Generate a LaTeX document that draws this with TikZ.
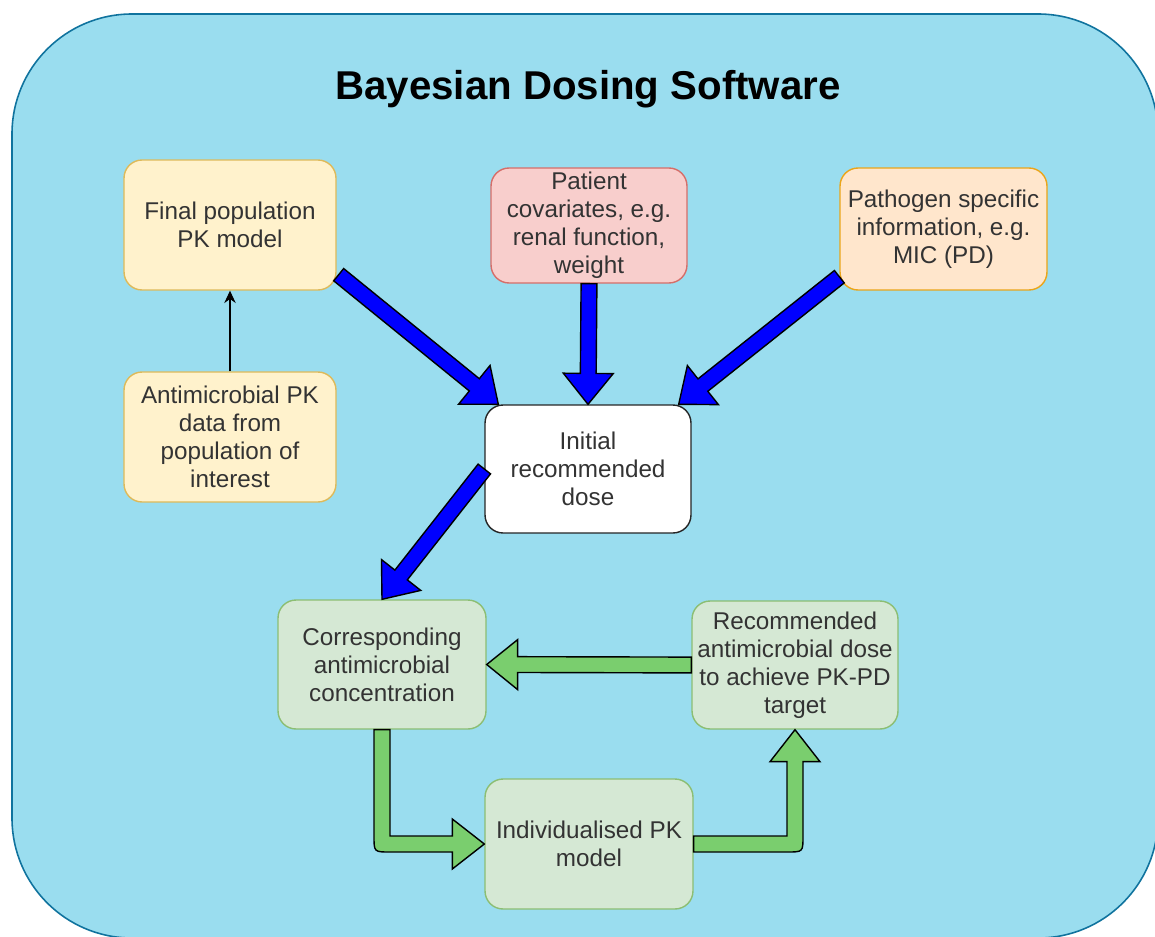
\documentclass[tikz,border=0pt]{standalone}
\usepackage{fontspec}
\setmainfont{Liberation Sans}
\usetikzlibrary{calc,arrows.meta}

\definecolor{bgblue}{RGB}{154,221,239}
\definecolor{bgline}{RGB}{16,115,158}
\definecolor{textgray}{RGB}{51,51,51}
\definecolor{boxyellow}{RGB}{255,242,204}
\definecolor{boxyellowline}{RGB}{222,186,90}
\definecolor{boxred}{RGB}{248,206,204}
\definecolor{boxredline}{RGB}{214,110,105}
\definecolor{boxorange}{RGB}{255,230,204}
\definecolor{boxorangeline}{RGB}{235,165,25}
\definecolor{boxgreen}{RGB}{213,232,212}
\definecolor{boxgreenline}{RGB}{140,190,115}
\definecolor{arrowgreen}{RGB}{122,206,110}

\tikzset{
	box/.style={draw, rounded corners=0.36cm, line width=0.8pt, align=center, text=textgray,
		minimum width=4.16cm, minimum height=2.58cm, inner sep=2pt,
		font=\fontsize{13.8}{16}\selectfont},
	yellowbox/.style={box, fill=boxyellow, draw=boxyellowline},
	redbox/.style={box, fill=boxred, draw=boxredline},
	orangebox/.style={box, fill=boxorange, draw=boxorangeline},
	greenbox/.style={box, fill=boxgreen, draw=boxgreenline},
	whitebox/.style={box, fill=white, draw=black!85},
	fatline/.style={draw=black, line width=0.8pt}
}

% block arrow from #2 to #3, filled with #1
\newcommand{\fatarrow}[3]{%
	\coordinate (fa-s) at #2;
	\coordinate (fa-t) at #3;
	\coordinate (fa-n) at ($(fa-t)!17.6pt!(fa-s)$);
	\draw[fatline, fill=#1] ($(fa-s)!4.5pt!90:(fa-t)$) -- ($(fa-n)!4.5pt!-90:(fa-s)$)
		-- ($(fa-n)!14.2pt!-90:(fa-s)$) -- (fa-t) -- ($(fa-n)!14.2pt!90:(fa-s)$)
		-- ($(fa-n)!4.5pt!90:(fa-s)$) -- ($(fa-s)!4.5pt!-90:(fa-t)$) -- cycle;
}

\begin{document}
\begin{tikzpicture}[x=0.02cm, y=-0.02cm]
	\useasboundingbox (0,0) rectangle (1155,936);
	\clip (0,0) rectangle (1155,936);
	\draw[fill=bgblue, draw=bgline, line width=0.9pt, rounded corners=2.4cm] (12,14) rectangle (1158,938);

	\node[font=\bfseries\fontsize{22.9}{27}\selectfont] (title) at (588,89) {Bayesian Dosing Software};

	\node[yellowbox, minimum width=4.24cm, minimum height=2.6cm] (final) at (230,225) {Final population\\PK model};
	\node[yellowbox, minimum width=4.24cm, minimum height=2.6cm] (data) at (230,437) {Antimicrobial PK\\data from\\population of\\interest};
	\node[redbox, minimum width=3.92cm, minimum height=2.3cm] (patient) at (589,225.5) {Patient\\covariates, e.g.\\renal function,\\weight};
	\node[orangebox, minimum width=4.14cm, minimum height=2.44cm] (pathogen) at (943.5,229) {Pathogen specific\\information, e.g.\\MIC (PD)};
	\node[whitebox, minimum width=4.12cm, minimum height=2.56cm] (initial) at (588,469) {Initial\\recommended\\dose};
	\node[greenbox] (corr) at (382,664.5) {Corresponding\\antimicrobial\\concentration};
	\node[greenbox, minimum width=4.12cm, minimum height=2.56cm] (rec) at (795,665) {Recommended\\antimicrobial dose\\to achieve PK-PD\\target};
	\node[greenbox, minimum height=2.6cm] (indiv) at (589,844) {Individualised PK\\model};

	\draw[-{Stealth[length=7pt,width=6.5pt]}, line width=0.7pt] (data) -- (final);

	\fatarrow{blue}{($(final.south east)+(2,-16)$)}{($(initial.north west)+(14,0)$)}
	\fatarrow{blue}{(patient.south)}{(initial.north)}
	\fatarrow{blue}{($(pathogen.south west)+(0,-14)$)}{($(initial.north east)+(-13,0)$)}
	\fatarrow{blue}{(initial.west)}{(corr.north)}
	\fatarrow{arrowgreen}{(rec.west)}{(corr.east)}

	\coordinate (bend1) at (corr.south |- indiv.west);
	\coordinate (bend2) at (rec.south |- indiv.east);
	\draw[fatline, fill=arrowgreen] ($(corr.south)+(-8,0)$) -- ($(bend1)+(-8,-8)$)
		.. controls ($(bend1)+(-8,8)$) .. ($(bend1)+(8,8)$)
		-- ($(indiv.west)+(-32,8)$) -- ($(indiv.west)+(-32,25)$) -- (indiv.west)
		-- ($(indiv.west)+(-32,-25)$) -- ($(indiv.west)+(-32,-8)$) -- ($(bend1)+(8,-8)$)
		-- ($(corr.south)+(8,0)$) -- cycle;
	\draw[fatline, fill=arrowgreen] ($(indiv.east)+(0,-8)$) -- ($(bend2)+(-8,-8)$)
		-- ($(rec.south)+(-8,32)$) -- ($(rec.south)+(-25,32)$) -- (rec.south)
		-- ($(rec.south)+(25,32)$) -- ($(rec.south)+(8,32)$) -- ($(bend2)+(8,-8)$)
		.. controls ($(bend2)+(8,8)$) .. ($(bend2)+(-8,8)$)
		-- ($(indiv.east)+(0,8)$) -- cycle;
\end{tikzpicture}
\end{document}
